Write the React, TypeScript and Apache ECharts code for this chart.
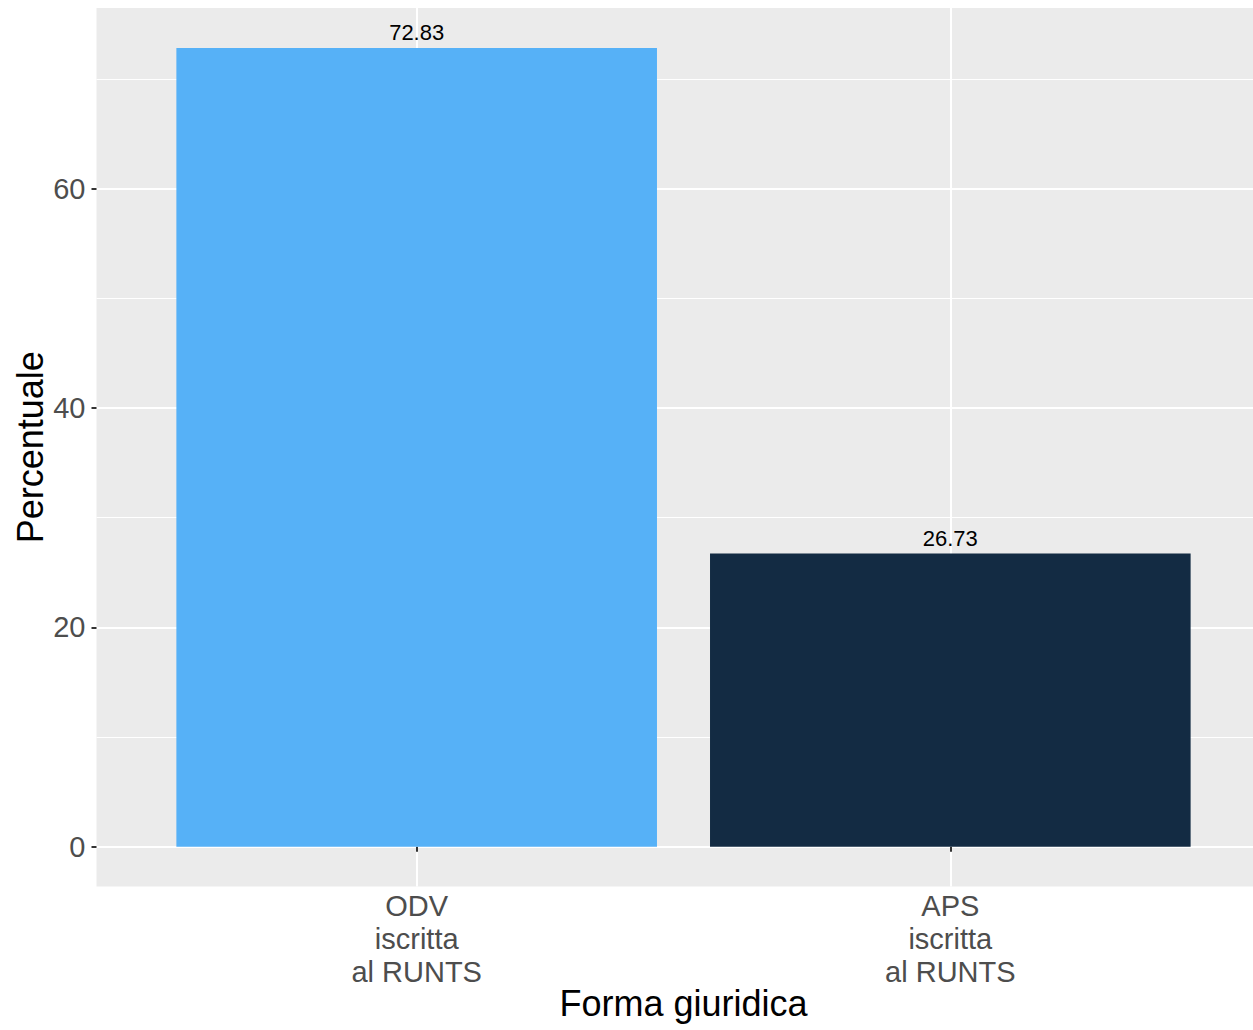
import React, { useEffect, useRef } from "react";
import * as echarts from "echarts";

const categories = ["ODV\niscritta\nal RUNTS", "APS\niscritta\nal RUNTS"];
const percentages = [72.83, 26.73];
const barColors = ["#56B1F7", "#132B43"];
const yTicks = [0, 20, 40, 60];
const xTitle = "Forma giuridica";
const yTitle = "Percentuale";

const FONT = "'Liberation Sans', Arial, Helvetica, sans-serif";

export default function App() {
  const ref = useRef<HTMLDivElement>(null);
  useEffect(() => {
    document.body.style.margin = "0";
    document.body.style.overflow = "hidden";
    if (!ref.current) return;
    const chart = echarts.init(ref.current, undefined, { renderer: "svg" });
    const positions = categories.map((_, i) => i + 1);
    const yMax = Math.max(...percentages);
    const pad = yMax * 0.05;
    chart.setOption({
      animation: false,
      backgroundColor: "#FFFFFF",
      textStyle: { fontFamily: FONT },
      grid: {
        left: 96.5,
        right: -17.5,
        top: 8,
        bottom: 143.4,
        show: true,
        backgroundColor: "#EBEBEB",
        borderWidth: 0,
        containLabel: false,
        outerBoundsMode: "none",
      },
      xAxis: {
        type: "value",
        min: 0.4,
        max: categories.length + 0.6,
        name: xTitle,
        nameLocation: "middle",
        nameGap: 99,
        nameMoveOverlap: false,
        nameTextStyle: { fontSize: 36, color: "#000000", fontFamily: FONT },
        axisLine: { show: false },
        axisTick: {
          show: true,
          customValues: positions,
          length: 5,
          lineStyle: { color: "#333333", width: 2 },
        },
        axisLabel: {
          customValues: positions,
          formatter: (v: number) => categories[Math.round(v) - 1] ?? "",
          fontSize: 29,
          lineHeight: 33,
          color: "#4D4D4D",
          margin: 2.7,
          fontFamily: FONT,
        },
        splitLine: { show: true, lineStyle: { color: "#FFFFFF", width: 2 } },
        minorSplitLine: { show: false },
      },
      yAxis: {
        type: "value",
        min: -pad,
        max: yMax + pad,
        name: yTitle,
        nameLocation: "middle",
        nameGap: 48.5,
        nameMoveOverlap: false,
        nameTextStyle: { fontSize: 36, color: "#000000", fontFamily: FONT },
        axisLine: { show: false },
        axisTick: {
          show: true,
          customValues: yTicks,
          length: 5,
          lineStyle: { color: "#333333", width: 2 },
        },
        axisLabel: {
          customValues: yTicks,
          fontSize: 29,
          color: "#4D4D4D",
          margin: 11,
          fontFamily: FONT,
        },
        splitLine: { show: true, lineStyle: { color: "#FFFFFF", width: 2 } },
        minorTick: { show: false, splitNumber: 2 },
        minorSplitLine: { show: true, lineStyle: { color: "#FFFFFF", width: 1 } },
      },
      series: [
        {
          type: "bar",
          barWidth: 480.6,
          data: percentages.map((v, i) => ({
            value: [positions[i], v],
            itemStyle: { color: barColors[i] },
          })),
          label: {
            show: true,
            position: "top",
            distance: 4.5,
            fontSize: 22,
            color: "#000000",
            fontFamily: FONT,
            formatter: (p: any) => Number(p.value[1]).toFixed(2),
          },
        },
      ],
    });
    return () => chart.dispose();
  }, []);
  return <div ref={ref} style={{ width: 1253, height: 1030 }} />;
}
